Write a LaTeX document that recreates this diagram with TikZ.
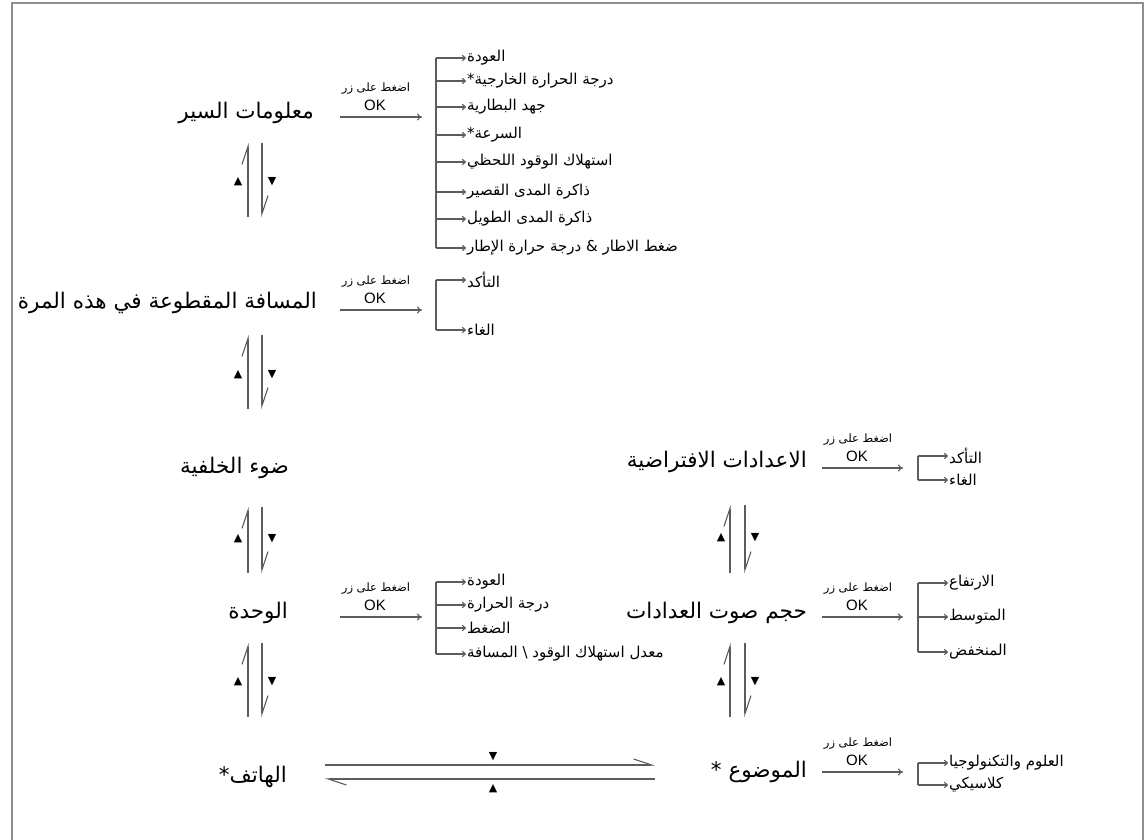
\documentclass[tikz,border=0pt]{standalone}
\usepackage{fontspec}
\setmainfont{Liberation Sans}
\newfontfamily\arabicfont[Script=Arabic]{DejaVu Sans}
\newfontfamily\symbolfont{DejaVu Sans}
\TeXXeTstate=1
\usetikzlibrary{arrows.meta}
\definecolor{linegray}{HTML}{5C5C5C}
\definecolor{framegray}{HTML}{8E8E8E}

\begin{document}
\begin{tikzpicture}[x=1pt, y=-1pt]
    % Node and line styles
    \tikzstyle{menu}=[inner sep=1pt, anchor=east, font=\arabicfont\fontsize{21.5}{24}\selectfont]
    \tikzstyle{sub}=[inner sep=1pt, anchor=west, font=\arabicfont\fontsize{15}{17}\selectfont]
    \tikzstyle{press}=[inner sep=0pt, font=\arabicfont\fontsize{11.5}{12}\selectfont]
    \tikzstyle{oktext}=[inner sep=0pt, font=\fontsize{15}{15}\selectfont]
    \tikzstyle{tri}=[inner sep=0pt, font=\symbolfont\fontsize{11}{11}\selectfont]
    \tikzstyle{wire}=[draw=linegray, line width=1.1pt]
    \tikzstyle{okarrow}=[wire, -{To[length=5pt,width=7pt]}]
    \tikzstyle{subarrow}=[wire, -{To[length=4pt,width=6pt]}]
    \tikzstyle{harp}=[wire, -{Straight Barb[harpoon,length=18pt,width=12pt]}]

    \useasboundingbox (0,0) rectangle (1148,840);
    \draw[framegray, line width=2pt] (12,842) -- (12,3) -- (1143,3) -- (1143,842);

    % --- Left column: menu entries ---
    \node[menu] (info) at (315,113) {\beginR معلومات السير\endR};
    \node[menu] (trip) at (318,303) {\beginR المسافة المقطوعة في هذه المرة\endR};
    \node[menu] (backlight) at (290,468) {\beginR ضوء الخلفية\endR};
    \node[menu] (unit) at (289,613) {\beginR الوحدة\endR};
    \node[menu] (phone) at (288,777) {\beginR الهاتف*\endR};

    % --- Right column: menu entries ---
    \node[menu] (defaults) at (808,462) {\beginR الاعدادات الافتراضية\endR};
    \node[menu] (volume) at (808,613) {\beginR حجم صوت العدادات\endR};
    \node[menu] (theme) at (808,772) {\beginR الموضوع *\endR};

    % --- Up/down pairs between entries ---
    % Helper coordinates for the pairs
    \coordinate (p1-up-s) at (248,217); \coordinate (p1-up-e) at (248,143);
    \coordinate (p1-dn-s) at (262,143); \coordinate (p1-dn-e) at (262,217);
    \coordinate (p2-up-s) at (248,409); \coordinate (p2-up-e) at (248,335);
    \coordinate (p2-dn-s) at (262,335); \coordinate (p2-dn-e) at (262,409);
    \coordinate (p3-up-s) at (248,573); \coordinate (p3-up-e) at (248,507);
    \coordinate (p3-dn-s) at (262,507); \coordinate (p3-dn-e) at (262,573);
    \coordinate (p4-up-s) at (248,717); \coordinate (p4-up-e) at (248,643);
    \coordinate (p4-dn-s) at (262,643); \coordinate (p4-dn-e) at (262,717);
    \coordinate (p5-up-s) at (730,573); \coordinate (p5-up-e) at (730,505);
    \coordinate (p5-dn-s) at (745,505); \coordinate (p5-dn-e) at (745,573);
    \coordinate (p6-up-s) at (730,717); \coordinate (p6-up-e) at (730,643);
    \coordinate (p6-dn-s) at (745,643); \coordinate (p6-dn-e) at (745,717);
    % phone <-> theme
    \coordinate (p7-fw-s) at (325,765); \coordinate (p7-fw-e) at (655,765);
    \coordinate (p7-bk-s) at (655,779); \coordinate (p7-bk-e) at (325,779);

    \draw[harp] (p1-up-s) -- (p1-up-e);  \draw[harp] (p1-dn-s) -- (p1-dn-e);
    \draw[harp] (p2-up-s) -- (p2-up-e);  \draw[harp] (p2-dn-s) -- (p2-dn-e);
    \draw[harp] (p3-up-s) -- (p3-up-e);  \draw[harp] (p3-dn-s) -- (p3-dn-e);
    \draw[harp] (p4-up-s) -- (p4-up-e);  \draw[harp] (p4-dn-s) -- (p4-dn-e);
    \draw[harp] (p5-up-s) -- (p5-up-e);  \draw[harp] (p5-dn-s) -- (p5-dn-e);
    \draw[harp] (p6-up-s) -- (p6-up-e);  \draw[harp] (p6-dn-s) -- (p6-dn-e);
    \draw[harp] (p7-fw-s) -- (p7-fw-e);  \draw[harp] (p7-bk-s) -- (p7-bk-e);

    % Button marks
    \node[tri] (p1-up) at (238,182) {▲}; \node[tri] (p1-dn) at (272,182) {▼};
    \node[tri] (p2-up) at (238,375) {▲}; \node[tri] (p2-dn) at (272,375) {▼};
    \node[tri] (p3-up) at (238,539) {▲}; \node[tri] (p3-dn) at (272,539) {▼};
    \node[tri] (p4-up) at (238,682) {▲}; \node[tri] (p4-dn) at (272,682) {▼};
    \node[tri] (p5-up) at (721,538) {▲}; \node[tri] (p5-dn) at (755,538) {▼};
    \node[tri] (p6-up) at (721,682) {▲}; \node[tri] (p6-dn) at (755,682) {▼};
    \node[tri] (p7-fw) at (493,757) {▼}; \node[tri] (p7-bk) at (493,789) {▲};

    % --- OK arrows ---
    \coordinate (info-ok-s) at (340,117);     \coordinate (info-ok-e) at (422,117);
    \coordinate (trip-ok-s) at (340,310);     \coordinate (trip-ok-e) at (422,310);
    \coordinate (unit-ok-s) at (340,617);     \coordinate (unit-ok-e) at (422,617);
    \coordinate (defaults-ok-s) at (822,468); \coordinate (defaults-ok-e) at (903,468);
    \coordinate (volume-ok-s) at (822,617);   \coordinate (volume-ok-e) at (903,617);
    \coordinate (theme-ok-s) at (822,772);    \coordinate (theme-ok-e) at (903,772);

    \draw[okarrow] (info-ok-s) -- (info-ok-e);
    \draw[okarrow] (trip-ok-s) -- (trip-ok-e);
    \draw[okarrow] (unit-ok-s) -- (unit-ok-e);
    \draw[okarrow] (defaults-ok-s) -- (defaults-ok-e);
    \draw[okarrow] (volume-ok-s) -- (volume-ok-e);
    \draw[okarrow] (theme-ok-s) -- (theme-ok-e);

    \node[press] (info-press) at (376,89) {\beginR اضغط على زر\endR};
    \node[oktext] (info-ok) at (375,105) {OK};
    \node[press] (trip-press) at (376,282) {\beginR اضغط على زر\endR};
    \node[oktext] (trip-ok) at (375,298) {OK};
    \node[press] (unit-press) at (376,589) {\beginR اضغط على زر\endR};
    \node[oktext] (unit-ok) at (375,605) {OK};
    \node[press] (defaults-press) at (858,440) {\beginR اضغط على زر\endR};
    \node[oktext] (defaults-ok) at (857,456) {OK};
    \node[press] (volume-press) at (858,589) {\beginR اضغط على زر\endR};
    \node[oktext] (volume-ok) at (857,605) {OK};
    \node[press] (theme-press) at (858,744) {\beginR اضغط على زر\endR};
    \node[oktext] (theme-ok) at (857,760) {OK};

    % --- Sub-menus ---
    \coordinate (left-br) at (436,0);
    \coordinate (right-br) at (918,0);

    % Trip info
    \node[sub] (info-s1) at (466,58)  {\beginR العودة\endR};
    \node[sub] (info-s2) at (466,81)  {\beginR درجة الحرارة الخارجية*\endR};
    \node[sub] (info-s3) at (466,107) {\beginR جهد البطارية\endR};
    \node[sub] (info-s4) at (466,135) {\beginR السرعة*\endR};
    \node[sub] (info-s5) at (466,162) {\beginR استهلاك الوقود اللحظي\endR};
    \node[sub] (info-s6) at (466,192) {\beginR ذاكرة المدى القصير\endR};
    \node[sub] (info-s7) at (466,219) {\beginR ذاكرة المدى الطويل\endR};
    \node[sub] (info-s8) at (466,248) {\beginR ضغط الاطار \& درجة حرارة الإطار\endR};
    \draw[wire] (info-s1.west -| left-br) -- (info-s8.west -| left-br);
    \draw[subarrow] (info-s1.west -| left-br) -- (info-s1.west);
    \draw[subarrow] (info-s2.west -| left-br) -- (info-s2.west);
    \draw[subarrow] (info-s3.west -| left-br) -- (info-s3.west);
    \draw[subarrow] (info-s4.west -| left-br) -- (info-s4.west);
    \draw[subarrow] (info-s5.west -| left-br) -- (info-s5.west);
    \draw[subarrow] (info-s6.west -| left-br) -- (info-s6.west);
    \draw[subarrow] (info-s7.west -| left-br) -- (info-s7.west);
    \draw[subarrow] (info-s8.west -| left-br) -- (info-s8.west);

    % Trip distance
    \node[sub] (trip-s1) at (466,280) {\beginR التأكد\endR};
    \node[sub] (trip-s2) at (466,330) {\beginR الغاء\endR};
    \draw[wire] (trip-s1.west -| left-br) -- (trip-s2.west -| left-br);
    \draw[subarrow] (trip-s1.west -| left-br) -- (trip-s1.west);
    \draw[subarrow] (trip-s2.west -| left-br) -- (trip-s2.west);

    % Unit
    \node[sub] (unit-s1) at (466,582) {\beginR العودة\endR};
    \node[sub] (unit-s2) at (466,605) {\beginR درجة الحرارة\endR};
    \node[sub] (unit-s3) at (466,628) {\beginR الضغط\endR};
    \node[sub] (unit-s4) at (466,654) {\beginR معدل استهلاك الوقود \textbackslash{} المسافة\endR};
    \draw[wire] (unit-s1.west -| left-br) -- (unit-s4.west -| left-br);
    \draw[subarrow] (unit-s1.west -| left-br) -- (unit-s1.west);
    \draw[subarrow] (unit-s2.west -| left-br) -- (unit-s2.west);
    \draw[subarrow] (unit-s3.west -| left-br) -- (unit-s3.west);
    \draw[subarrow] (unit-s4.west -| left-br) -- (unit-s4.west);

    % Default settings
    \node[sub] (defaults-s1) at (948,456) {\beginR التأكد\endR};
    \node[sub] (defaults-s2) at (948,480) {\beginR الغاء\endR};
    \draw[wire] (defaults-s1.west -| right-br) -- (defaults-s2.west -| right-br);
    \draw[subarrow] (defaults-s1.west -| right-br) -- (defaults-s1.west);
    \draw[subarrow] (defaults-s2.west -| right-br) -- (defaults-s2.west);

    % Meter volume
    \node[sub] (volume-s1) at (948,583) {\beginR الارتفاع\endR};
    \node[sub] (volume-s2) at (948,617) {\beginR المتوسط\endR};
    \node[sub] (volume-s3) at (948,652) {\beginR المنخفض\endR};
    \draw[wire] (volume-s1.west -| right-br) -- (volume-s3.west -| right-br);
    \draw[subarrow] (volume-s1.west -| right-br) -- (volume-s1.west);
    \draw[subarrow] (volume-s2.west -| right-br) -- (volume-s2.west);
    \draw[subarrow] (volume-s3.west -| right-br) -- (volume-s3.west);

    % Theme
    \node[sub] (theme-s1) at (948,763) {\beginR العلوم والتكنولوجيا\endR};
    \node[sub] (theme-s2) at (948,785) {\beginR كلاسيكي\endR};
    \draw[wire] (theme-s1.west -| right-br) -- (theme-s2.west -| right-br);
    \draw[subarrow] (theme-s1.west -| right-br) -- (theme-s1.west);
    \draw[subarrow] (theme-s2.west -| right-br) -- (theme-s2.west);

\end{tikzpicture}
\end{document}
